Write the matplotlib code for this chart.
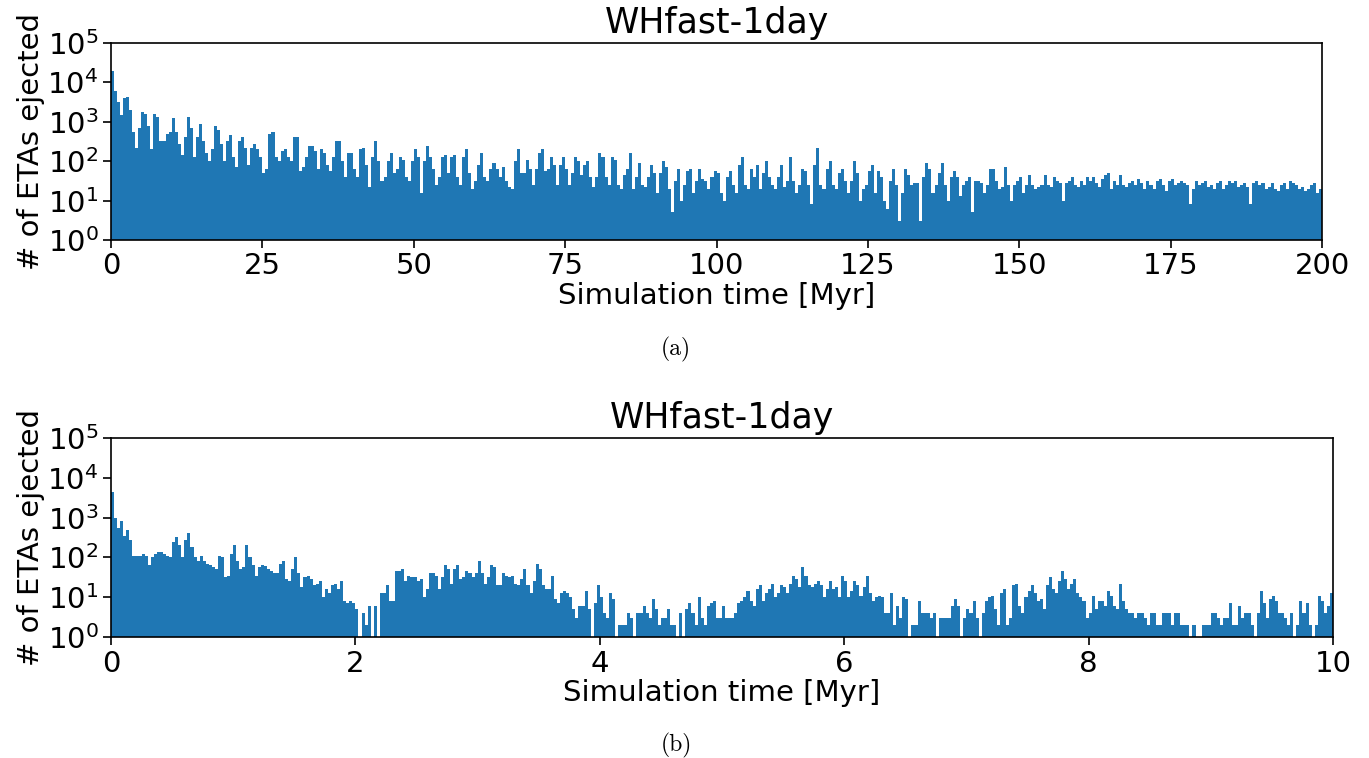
#
# Ejection history of ETAs for the WHfast-1day run
#

import numpy as np
import matplotlib.pyplot as plt
from matplotlib.ticker import NullLocator

# panel (a): 0.5 Myr bins over 0-200 Myr
long_width = 0.5
long_counts = [
    20000, 6000, 3200, 1500, 4000, 4200, 2000, 560, 220, 700,
    1800, 1600, 800, 200, 1600, 1300, 320, 320, 500, 560,
    1250, 560, 280, 140, 400, 1300, 700, 130, 400, 900,
    320, 160, 100, 200, 800, 630, 280, 100, 320, 450,
    130, 70, 320, 400, 220, 80, 220, 280, 200, 125,
    50, 63, 500, 560, 125, 100, 180, 200, 125, 100,
    400, 400, 56, 70, 125, 250, 250, 180, 63, 200,
    160, 80, 56, 125, 320, 320, 100, 40, 160, 160,
    63, 40, 200, 220, 80, 22, 125, 320, 100, 32,
    40, 100, 160, 50, 63, 125, 110, 40, 32, 100,
    200, 125, 16, 100, 250, 125, 63, 25, 40, 125,
    140, 50, 125, 140, 40, 25, 125, 200, 50, 20,
    32, 80, 160, 40, 32, 63, 90, 63, 40, 70,
    32, 22, 20, 100, 200, 50, 50, 110, 63, 25,
    63, 160, 200, 56, 63, 125, 80, 25, 80, 125,
    63, 25, 50, 125, 100, 45, 80, 100, 40, 22,
    40, 160, 125, 40, 25, 125, 110, 25, 20, 45,
    63, 160, 20, 40, 90, 25, 22, 40, 80, 50,
    16, 50, 100, 70, 20, 5, 32, 63, 10, 25,
    56, 63, 16, 32, 63, 35, 32, 20, 40, 56,
    50, 16, 10, 40, 56, 25, 16, 80, 125, 25,
    20, 63, 40, 80, 20, 50, 100, 40, 25, 20,
    40, 80, 22, 32, 125, 32, 16, 25, 63, 56,
    25, 8, 80, 220, 25, 20, 63, 100, 25, 20,
    50, 63, 32, 16, 32, 100, 50, 10, 20, 25,
    56, 80, 16, 56, 40, 10, 6, 32, 63, 25,
    3, 16, 63, 45, 25, 28, 28, 3, 40, 90,
    63, 16, 25, 50, 90, 25, 10, 40, 56, 40,
    13, 25, 32, 40, 5, 32, 32, 28, 16, 25,
    63, 63, 32, 20, 22, 70, 25, 10, 25, 32,
    40, 16, 25, 45, 25, 20, 22, 25, 45, 25,
    22, 40, 32, 28, 10, 28, 32, 40, 25, 22,
    32, 25, 40, 32, 40, 28, 22, 35, 45, 50,
    20, 32, 25, 45, 25, 22, 28, 32, 25, 35,
    28, 20, 32, 25, 20, 32, 35, 25, 18, 32,
    35, 25, 28, 32, 28, 25, 8, 20, 32, 25,
    28, 32, 22, 25, 20, 28, 32, 20, 25, 32,
    28, 32, 22, 25, 28, 22, 8, 28, 32, 25,
    28, 20, 22, 28, 20, 18, 25, 28, 20, 32,
    28, 25, 20, 22, 18, 20, 25, 28, 16, 20,
]

# panel (b): 0.025 Myr bins over 0-10 Myr
short_width = 0.025
short_counts = [
    4500, 1000, 560, 800, 350, 500, 280, 110, 110, 110,
    125, 110, 63, 100, 125, 140, 140, 125, 110, 100,
    250, 320, 200, 100, 280, 400, 180, 100, 80, 110,
    80, 70, 63, 56, 50, 110, 100, 32, 35, 125,
    200, 80, 50, 56, 200, 100, 63, 35, 56, 63,
    60, 50, 45, 40, 40, 70, 80, 28, 25, 50,
    100, 40, 18, 32, 35, 28, 20, 22, 25, 10,
    16, 13, 20, 22, 16, 25, 8, 7, 8, 7,
    5, 1, 4, 2, 6, 1, 6, 1, 13, 13,
    20, 8, 8, 45, 45, 50, 25, 35, 32, 32,
    25, 28, 10, 16, 40, 40, 35, 16, 32, 63,
    50, 22, 50, 63, 28, 32, 45, 40, 32, 40,
    80, 40, 22, 32, 63, 56, 20, 20, 40, 35,
    32, 35, 22, 20, 28, 50, 20, 13, 25, 70,
    50, 20, 16, 16, 35, 9, 7, 13, 14, 13,
    10, 5, 3, 6, 6, 14, 5, 1, 7, 20,
    10, 4, 3, 13, 9, 1, 2, 2, 2, 4,
    3, 1, 4, 4, 6, 4, 3, 9, 5, 2,
    3, 3, 5, 2, 2, 1, 4, 1, 5, 7,
    4, 2, 10, 3, 2, 6, 7, 8, 3, 3,
    6, 3, 3, 3, 4, 7, 8, 10, 14, 8,
    6, 16, 20, 8, 13, 16, 22, 10, 13, 20,
    18, 13, 22, 35, 28, 18, 56, 35, 20, 18,
    22, 25, 20, 10, 16, 25, 16, 18, 10, 35,
    25, 10, 14, 25, 20, 11, 18, 35, 13, 8,
    10, 11, 10, 4, 4, 13, 2, 6, 3, 10,
    9, 1, 2, 2, 8, 4, 4, 4, 3, 4,
    1, 3, 3, 3, 3, 6, 9, 6, 1, 3,
    5, 4, 8, 3, 1, 4, 8, 10, 11, 5,
    2, 13, 16, 2, 3, 20, 22, 6, 4, 10,
    14, 20, 13, 8, 9, 5, 20, 32, 16, 13,
    25, 45, 28, 16, 22, 28, 13, 10, 8, 3,
    4, 11, 5, 8, 8, 6, 14, 11, 6, 5,
    22, 8, 5, 4, 4, 3, 4, 4, 3, 2,
    4, 4, 2, 2, 4, 4, 4, 2, 4, 4,
    2, 2, 2, 1, 2, 0, 0, 2, 2, 2,
    4, 4, 3, 2, 3, 3, 7, 2, 2, 6,
    3, 4, 4, 2, 1, 4, 14, 7, 3, 9,
    11, 8, 4, 4, 3, 2, 4, 1, 2, 8,
    4, 7, 2, 1, 2, 11, 8, 4, 6, 13,
]

long_ticks = [0, 25, 50, 75, 100, 125, 150, 175, 200]
short_ticks = [0, 2, 4, 6, 8, 10]
log_ticks = [1, 10, 100, 1e3, 1e4, 1e5]
title = 'WHfast-1day'


def draw_panel(ax, counts, width, xticks):
    edges = np.arange(len(counts) + 1) * width
    ax.hist(edges[:-1], bins=edges, weights=counts, color='#1f77b4', log=True)
    ax.set_yscale('log')
    ax.set_ylim(1, 1e5)
    ax.set_xlim(xticks[0], xticks[-1])
    ax.set_xticks(xticks)
    ax.set_yticks(log_ticks)
    ax.yaxis.set_minor_locator(NullLocator())
    ax.tick_params(labelsize=21, length=6, width=1.2, pad=3)
    for s in ax.spines.values():
        s.set_linewidth(1.2)
    ax.set_title(title, fontsize=25, pad=7)
    ax.set_xlabel('Simulation time [Myr]', fontsize=21, labelpad=1)
    ax.set_ylabel('# of ETAs ejected', fontsize=21, labelpad=2)


fig = plt.figure(figsize=(13.69, 7.58), dpi=100)

ax1 = fig.add_axes([0.0811, 0.6834, 0.8846, 0.2599])
draw_panel(ax1, long_counts, long_width, long_ticks)

ax2 = fig.add_axes([0.0811, 0.1596, 0.8926, 0.2625])
draw_panel(ax2, short_counts, short_width, short_ticks)

fig.text(0.494, 1 - 349 / 758, '(a)', fontsize=17, family='cmr10',
         ha='center', va='center')
fig.text(0.494, 1 - 745 / 758, '(b)', fontsize=17, family='cmr10',
         ha='center', va='center')

fig.savefig('out.png', dpi=100)
